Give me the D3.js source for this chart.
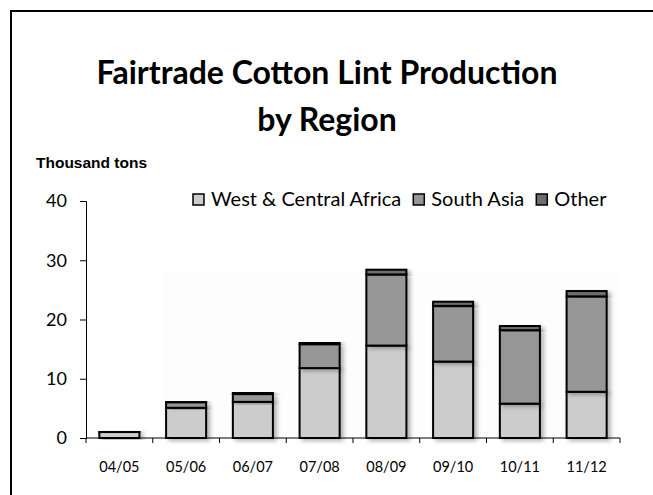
<!DOCTYPE html>
<html><head><meta charset="utf-8">
<script src="https://cdn.jsdelivr.net/npm/d3@7"></script>
<style>body{margin:0;background:#fff}</style>
</head><body>
<script>
const categories = ["04/05","05/06","06/07","07/08","08/09","09/10","10/11","11/12"];
const westCentralAfrica = [1.0, 5.1, 6.1, 11.8, 15.6, 12.9, 5.8, 7.8];
const southAsia = [0.0, 0.9, 1.3, 4.0, 12.0, 9.4, 12.4, 16.1];
const other = [0.1, 0.1, 0.3, 0.3, 0.8, 0.7, 0.7, 0.9];
const seriesNames = ["West & Central Africa","South Asia","Other"];
const seriesColors = ["#cccccc","#969696","#6e6e6e"];
const yTicks = [0,10,20,30,40];

const W=653,H=495;
const svg=d3.select("body").append("svg").attr("width",W).attr("height",H);
const defs=svg.append("defs");
const f=defs.append("filter").attr("id","sh").attr("x","-20%").attr("y","-20%").attr("width","150%").attr("height","150%");
f.append("feDropShadow").attr("dx",3).attr("dy",2).attr("stdDeviation",2).attr("flood-color","#000").attr("flood-opacity",0.3);

// frame
svg.append("path").attr("d",`M${W+5},11 H11 V${H+5}`).attr("fill","none").attr("stroke","#000").attr("stroke-width",2);

const font="Lato, 'Open Sans', sans-serif";
svg.append("text").attr("x",327).attr("y",84).attr("text-anchor","middle").attr("font-family",font).attr("font-weight","bold").attr("font-size",32).text("Fairtrade Cotton Lint Production");
svg.append("text").attr("x",327).attr("y",131).attr("text-anchor","middle").attr("font-family",font).attr("font-weight","bold").attr("font-size",32).text("by Region");
svg.append("text").attr("x",36).attr("y",168).attr("font-family","'Liberation Sans', Arial, sans-serif").attr("font-weight","bold").attr("font-size",15.5).text("Thousand tons");

const x=d3.scaleBand().domain(categories).range([86,620]).paddingInner(0.4).paddingOuter(0.2);
const y=d3.scaleLinear().domain([0,40]).range([438,201]);

svg.append("rect").attr("x",163).attr("y",270).attr("width",455).attr("height",168).attr("fill","#fdfdfd");

const data=categories.map((c,i)=>({cat:c,w:westCentralAfrica[i],s:southAsia[i],o:other[i]}));
const stack=d3.stack().keys(["w","s","o"])(data);
const g=svg.append("g");
stack.forEach((layer,li)=>{
  g.selectAll(null).data(layer).enter().append("rect")
   .attr("x",d=>x(d.data.cat)).attr("width",x.bandwidth())
   .attr("y",d=>y(d[1])).attr("height",d=>Math.max(0,y(d[0])-y(d[1])))
   .attr("fill",seriesColors[li]).attr("stroke","#000").attr("stroke-width",2)
   .attr("filter","url(#sh)");
});

// axes
const ya=svg.append("g").attr("transform","translate(86,0)").call(d3.axisLeft(y).tickValues(yTicks).tickSize(6).tickPadding(13));
ya.select(".domain").attr("stroke","#000");
ya.selectAll("text").attr("font-family",font).attr("font-size",18).attr("fill","#000");

const xa=svg.append("g").attr("transform","translate(0,438)");
xa.append("line").attr("x1",86).attr("x2",620).attr("stroke","#000");
const bounds=d3.range(categories.length+1).map(i=>86+i*(534/categories.length));
xa.selectAll(null).data(bounds).enter().append("line").attr("x1",d=>d).attr("x2",d=>d).attr("y1",0).attr("y2",5).attr("stroke","#000");
xa.selectAll(null).data(categories).enter().append("text").attr("x",d=>x(d)+x.bandwidth()/2).attr("y",34)
  .attr("text-anchor","middle").attr("font-family",font).attr("font-size",14.5).text(d=>d);

// legend
const leg=svg.append("g").attr("font-family",font).attr("font-size",20);
let lx=193;
seriesNames.forEach((n,i)=>{
  leg.append("rect").attr("x",lx).attr("y",194).attr("width",11).attr("height",11).attr("fill",seriesColors[i]).attr("stroke","#000").attr("stroke-width",1.5);
  const t=leg.append("text").attr("x",lx+18).attr("y",206).text(n);
  lx+=18+t.node().getComputedTextLength()+12;
});
</script>
</body></html>
